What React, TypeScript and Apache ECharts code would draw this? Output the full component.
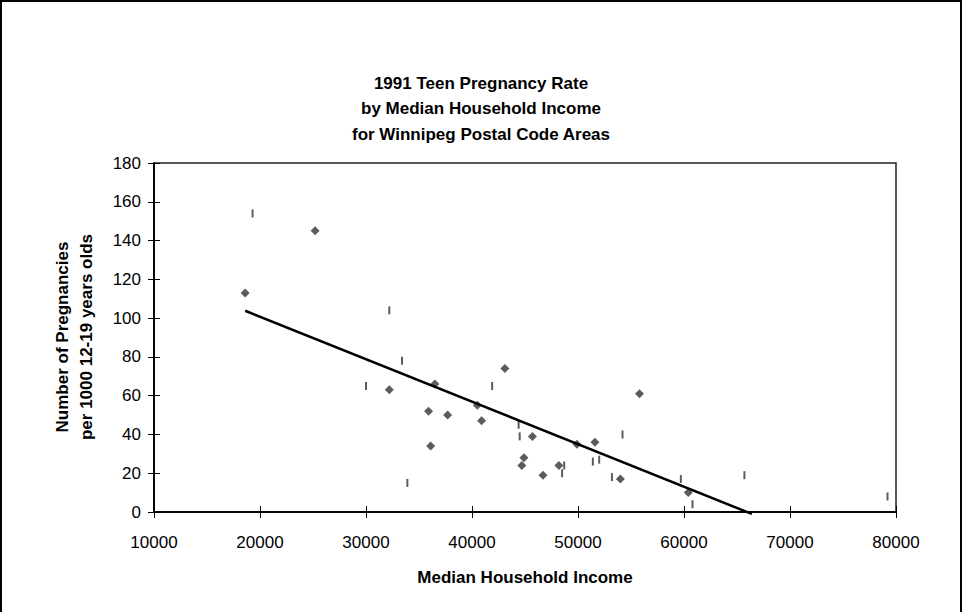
import React, { useEffect, useRef } from "react";
import * as echarts from "echarts";

const titleLines = [
  "1991 Teen Pregnancy Rate",
  "by Median Household Income",
  "for Winnipeg Postal Code Areas",
];
const xAxisTitle = "Median Household Income";
const yAxisTitleLines = ["Number of Pregnancies", "per 1000 12-19 years olds"];

const xTicks = [10000, 20000, 30000, 40000, 50000, 60000, 70000, 80000];
const yTicks = [0, 20, 40, 60, 80, 100, 120, 140, 160, 180];

// Diamond-marker series: [median income, pregnancies per 1000]
const diamondIncome = [18600, 25200, 32200, 36500, 35900, 37700, 36100, 43100, 40500, 40900, 45700, 44900, 44700, 46700, 48200, 49900, 51600, 54000, 55800, 60400];
const diamondRate = [113, 145, 63, 66, 52, 50, 34, 74, 55, 47, 39, 28, 24, 19, 24, 35, 36, 17, 61, 10];

// Dash-marker series
const dashIncome = [19300, 32200, 33400, 30000, 33900, 41900, 44400, 44500, 48700, 48500, 51400, 52000, 54200, 53200, 59700, 60800, 65700, 79200];
const dashRate = [154, 104, 78, 65, 15, 65, 45, 39, 24, 20, 26, 27, 40, 18, 17, 4, 19, 8];

// Linear trend line end points
const trendIncome = [18600, 66400];
const trendRate = [103.8, -1];

const FONT = "'Liberation Sans', Arial, sans-serif";

export default function App() {
  const ref = useRef<HTMLDivElement>(null);
  useEffect(() => {
    document.body.style.margin = "0";
    const chart = echarts.init(ref.current!, null, { renderer: "svg" });
    const xMin = xTicks[0];
    const xMax = xTicks[xTicks.length - 1];
    const yMin = yTicks[0];
    const yMax = yTicks[yTicks.length - 1];
    const axisCommon = {
      axisLine: { show: true, lineStyle: { color: "#000", width: 1.5 } },
      splitLine: { show: false },
    };
    chart.setOption({
      animation: false,
      backgroundColor: "#fff",
      grid: {
        left: 154,
        top: 163,
        right: 67,
        bottom: 100,
        show: true,
        borderColor: "#222",
        borderWidth: 1.5,
        backgroundColor: "transparent",
      },
      xAxis: [
        {
          type: "value",
          min: xMin,
          max: xMax,
          interval: 10000,
          ...axisCommon,
          axisTick: { show: true, inside: false, length: 6, lineStyle: { color: "#000" } },
          axisLabel: {
            fontFamily: FONT,
            fontSize: 17,
            color: "#000",
            margin: 22,
            formatter: (v: number) => String(v),
          },
        },
        {
          type: "value",
          position: "bottom",
          min: xMin,
          max: xMax,
          interval: 10000,
          ...axisCommon,
          axisTick: { show: true, inside: true, length: 6, lineStyle: { color: "#000" } },
          axisLabel: { show: false },
        },
      ],
      yAxis: [
        {
          type: "value",
          min: yMin,
          max: yMax,
          interval: 20,
          ...axisCommon,
          axisTick: { show: true, inside: false, length: 6, lineStyle: { color: "#000" } },
          axisLabel: { fontFamily: FONT, fontSize: 17, color: "#000", margin: 13 },
        },
        {
          type: "value",
          position: "left",
          min: yMin,
          max: yMax,
          interval: 20,
          ...axisCommon,
          axisTick: { show: true, inside: true, length: 6, lineStyle: { color: "#000" } },
          axisLabel: { show: false },
        },
      ],
      series: [
        {
          type: "scatter",
          name: "diamonds",
          symbol: "diamond",
          symbolSize: [9, 9],
          itemStyle: { color: "#333" },
          data: diamondIncome.map((x, i) => [x, diamondRate[i]]),
          z: 3,
        },
        {
          type: "scatter",
          name: "dashes",
          symbol: "rect",
          symbolSize: [2, 8],
          itemStyle: { color: "#333" },
          data: dashIncome.map((x, i) => [x, dashRate[i]]),
          z: 3,
        },
        {
          type: "line",
          name: "trend",
          clip: false,
          showSymbol: false,
          symbol: "none",
          lineStyle: { color: "#000", width: 2.5 },
          data: trendIncome.map((x, i) => [x, trendRate[i]]),
          z: 4,
        },
      ],
      graphic: [
        {
          type: "rect",
          shape: { x: 1, y: 1, width: 960, height: 660 },
          style: { fill: "none", stroke: "#000", lineWidth: 2 },
          silent: true,
        },
        ...titleLines.map((t, i) => ({
          type: "text",
          x: 481,
          y: 83 + i * 25.5,
          style: {
            text: t,
            font: `bold 17px ${FONT}`,
            fill: "#000",
            textAlign: "center",
            textVerticalAlign: "middle",
          },
        })),
        {
          type: "text",
          x: 525,
          y: 577,
          style: {
            text: xAxisTitle,
            font: `bold 17px ${FONT}`,
            fill: "#000",
            textAlign: "center",
            textVerticalAlign: "middle",
          },
        },
        ...yAxisTitleLines.map((t, i) => ({
          type: "text",
          x: 62 + i * 24,
          y: 337,
          rotation: Math.PI / 2,
          style: {
            text: t,
            font: `bold 17px ${FONT}`,
            fill: "#000",
            textAlign: "center",
            textVerticalAlign: "middle",
          },
        })),
      ],
    });
    return () => chart.dispose();
  }, []);
  return <div ref={ref} style={{ width: 963, height: 612 }} />;
}
